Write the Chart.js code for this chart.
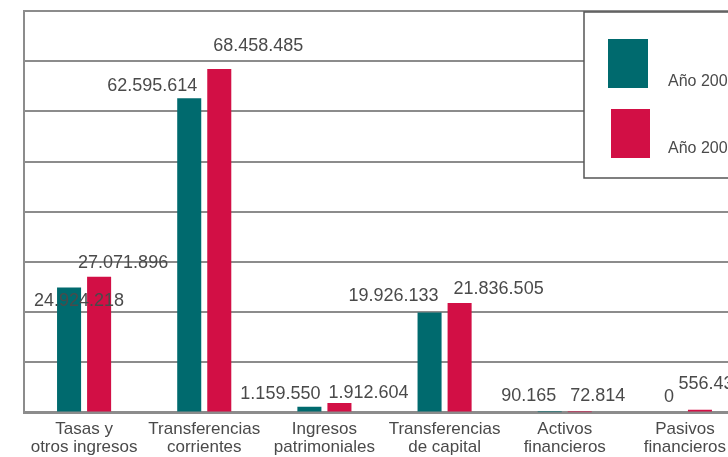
<!DOCTYPE html>
<html>
<head>
<meta charset="utf-8">
<script src="https://cdn.jsdelivr.net/npm/chart.js@4/dist/chart.umd.min.js"></script>
<style>
    html, body { margin: 0; padding: 0; background: #fff; overflow: hidden; }
    #wrap { width: 728px; height: 457px; overflow: hidden; }
</style>
</head>
<body>
<div id="wrap"><canvas id="myChart" width="770" height="464"></canvas></div>
<script>
const categories = [
    ['Tasas y', 'otros ingresos'],
    ['Transferencias', 'corrientes'],
    ['Ingresos', 'patrimoniales'],
    ['Transferencias', 'de capital'],
    ['Activos', 'financieros'],
    ['Pasivos', 'financieros']
];
const seriesNames = ['Año 2008', 'Año 2009'];
const values2008 = [24924218, 62595614, 1159550, 19926133, 90165, 0];
const values2009 = [27071896, 68458485, 1912604, 21836505, 72814, 556431];
const yTicks = [0, 10000000, 20000000, 30000000, 40000000, 50000000, 60000000, 70000000, 80000000];

const teal = '#006a6e';
const red = '#d20f45';
const grey = '#8c8c8c';
const textColor = '#4a4a4a';
const fontFamily = '"Liberation Sans", Arial, sans-serif';

// nudges for the value labels (from bar centre / bar top), one row per series
const labelNudge = [
    [[10, 14], [-37, -12], [-29, -13], [-36, -17], [-21, -16], [-1, -16]],
    [[24, -14], [39, -23], [29, -10], [39, -14], [18, -16], [11, -26]]
];

function formatNumber(v) {
    return v.toString().replace(/\B(?=(\d{3})+(?!\d))/g, '.');
}

const valueLabels = {
    id: 'valueLabels',
    afterDatasetsDraw(chart) {
        const ctx = chart.ctx;
        ctx.save();
        ctx.font = '18px ' + fontFamily;
        ctx.fillStyle = textColor;
        ctx.textAlign = 'center';
        ctx.textBaseline = 'middle';
        chart.data.datasets.forEach((ds, i) => {
            chart.getDatasetMeta(i).data.forEach((bar, j) => {
                const n = labelNudge[i][j];
                ctx.fillText(formatNumber(ds.data[j]), bar.x + n[0], bar.y + n[1]);
            });
        });
        ctx.restore();
    }
};

// boxed legend sitting over the top right of the plot
const boxLegend = {
    id: 'boxLegend',
    afterDraw(chart) {
        const ctx = chart.ctx;
        ctx.save();
        ctx.fillStyle = '#fff';
        ctx.fillRect(584, 12, 180, 166);
        ctx.strokeStyle = '#555';
        ctx.lineWidth = 1.5;
        ctx.strokeRect(584, 12, 180, 166);
        const swatches = [[608, 39, 40, 49], [611, 109, 39, 49]];
        const textY = [82, 149];
        ctx.font = '16px ' + fontFamily;
        ctx.textBaseline = 'middle';
        chart.data.datasets.forEach((ds, i) => {
            const s = swatches[i];
            ctx.fillStyle = ds.backgroundColor;
            ctx.fillRect(s[0], s[1], s[2], s[3]);
            ctx.fillStyle = textColor;
            ctx.fillText(ds.label, 668, textY[i]);
        });
        ctx.restore();
    }
};

window.addEventListener('load', function() {
    const ctx = document.getElementById('myChart');
    new Chart(ctx, {
        type: 'bar',
        data: {
            labels: categories,
            datasets: [
                { label: seriesNames[0], data: values2008, backgroundColor: teal },
                { label: seriesNames[1], data: values2009, backgroundColor: red }
            ]
        },
        options: {
            responsive: false,
            animation: false,
            events: [],
            layout: { padding: { left: 24, right: 25, top: 11, bottom: 0 } },
            datasets: {
                bar: { categoryPercentage: 0.5, barPercentage: 0.8 }
            },
            plugins: {
                legend: { display: false },
                tooltip: { enabled: false }
            },
            scales: {
                x: {
                    grid: { display: false, drawTicks: false },
                    border: { display: true, color: grey, width: 3 },
                    ticks: {
                        color: textColor,
                        padding: 7,
                        maxRotation: 0,
                        font: { family: fontFamily, size: 17, lineHeight: 1.1 }
                    }
                },
                y: {
                    min: yTicks[0],
                    max: yTicks[yTicks.length - 1],
                    afterBuildTicks: axis => { axis.ticks = yTicks.map(v => ({ value: v })); },
                    grid: { color: grey, lineWidth: 2, drawTicks: false },
                    border: { display: true, color: grey, width: 2 },
                    ticks: { display: false }
                }
            }
        },
        plugins: [valueLabels, boxLegend]
    });
});
</script>
</body>
</html>
